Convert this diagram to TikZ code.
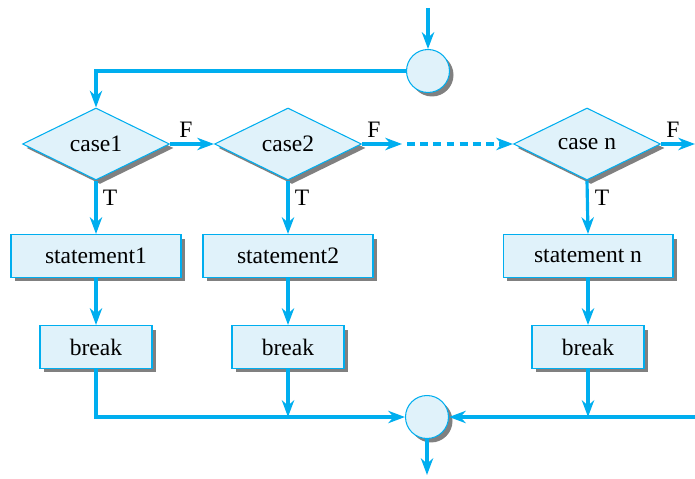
\documentclass[tikz,border=0pt]{standalone}
\usepackage{fontspec}
\setmainfont{Liberation Serif}
\usetikzlibrary{arrows.meta,shapes.geometric,shadows}
\definecolor{flowline}{RGB}{0,174,239}
\definecolor{flowfill}{RGB}{224,242,250}
\tikzset{
  shade/.style={drop shadow={shadow xshift=0.08cm, shadow yshift=-0.08cm, fill=black!50, opacity=1}},
  decision/.style={diamond, aspect=2, draw=flowline, fill=flowfill, line width=0.6pt, minimum width=2.94cm, minimum height=1.44cm, inner sep=0pt, shade},
  stmtbox/.style={rectangle, draw=flowline, fill=flowfill, line width=0.6pt, minimum width=3.4cm, minimum height=0.86cm, shade},
  breakbox/.style={rectangle, draw=flowline, fill=flowfill, line width=0.6pt, minimum width=2.24cm, minimum height=0.86cm, shade},
  joint/.style={circle, draw=flowline, fill=flowfill, line width=0.6pt, minimum size=0.86cm, inner sep=0pt, shade},
  flow/.style={draw=flowline, line width=1.8pt, -{Stealth[length=9.5pt,width=7pt,inset=3pt]}}
}
\begin{document}
\begin{tikzpicture}[x=0.02cm, y=-0.02cm, every node/.style={font=\fontsize{13.4}{16}\selectfont}]
\useasboundingbox (0,0) rectangle (695,479);
\node[joint] (top) at (428,71) {};
\node[joint] (bot) at (427,417) {};
\coordinate (start) at (428,8);
\coordinate (end) at (427,475);
\foreach \k/\x/\s in {1/96/case1, 2/288/case2, 3/587/case n}{
    \node[decision] (case\k) at (\x,144) {\s};
}
\foreach \k/\x/\s in {1/96/statement1, 2/288/statement2, 3/588/statement n}{
    \node[stmtbox] (stmt\k) at (\x,256) {\s};
    \node[breakbox] (brk\k) at (\x,347) {break};
    \draw[flow] (case\k.south) -- (stmt\k.north);
    \draw[flow] (stmt\k.south) -- (brk\k.north);
    \node at (\x+14,198) {T};
}
\coordinate (gap1) at (402,144);
\coordinate (gap2) at (407,144);
\coordinate (exit) at (695,144);
\coordinate (back) at (695,417);
\draw[flow] (start) -- (top.north);
\draw[flow] (top.west) -| (case1.north);
\draw[flow] (case1.east) -- (case2.west);
\draw[flow] (case2.east) -- (gap1);
\draw[flow, dash pattern=on 4.5pt off 3pt] (gap2) -- (case3.west);
\draw[flow] (case3.east) -- (exit);
\draw[flow] (brk1.south) |- (bot.west);
\draw[flow] (brk2.south) -- (brk2.south |- bot.west);
\draw[flow] (back) -- (bot.east);
\draw[flow] (brk3.south) -- (brk3.south |- bot.east);
\draw[flow] (bot.south) -- (end);
\node at (186,130) {F};
\node at (374,130) {F};
\node at (673,130) {F};
\end{tikzpicture}
\end{document}
